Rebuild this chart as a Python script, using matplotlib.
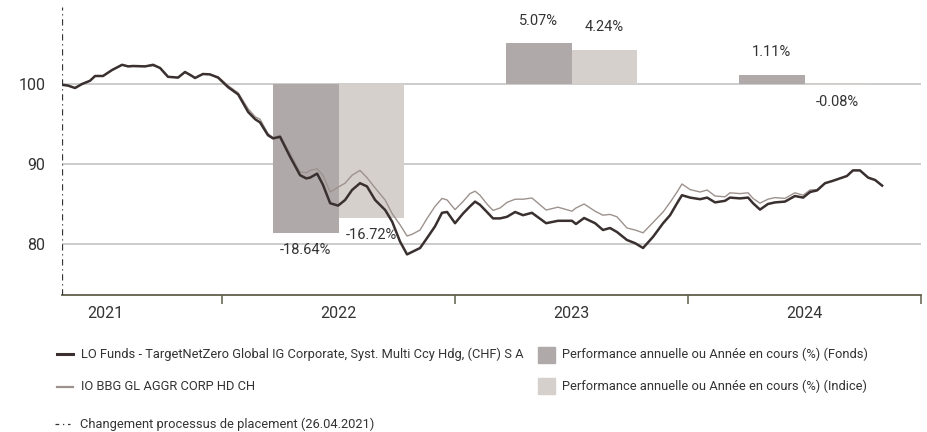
import numpy as np
import matplotlib
matplotlib.use('Agg')
import matplotlib.pyplot as plt
from matplotlib.lines import Line2D
from matplotlib.patches import Rectangle

plt.rcParams['font.family'] = ['Roboto', 'DejaVu Sans']
plt.rcParams['font.size'] = 11

## DATA
# time as decimal years (start = 26.04.2021)
years = [2021.313, 2021.339, 2021.369, 2021.399, 2021.433, 2021.455, 2021.489, 2021.528,
         2021.571, 2021.597, 2021.618, 2021.670, 2021.704, 2021.734, 2021.768, 2021.811,
         2021.841, 2021.871, 2021.884, 2021.918, 2021.948, 2021.983, 2022.026, 2022.069,
         2022.112, 2022.142, 2022.163, 2022.197, 2022.219, 2022.249, 2022.292, 2022.335,
         2022.361, 2022.378, 2022.408, 2022.433, 2022.464, 2022.498, 2022.528, 2022.558,
         2022.592, 2022.622, 2022.657, 2022.700, 2022.730, 2022.764, 2022.794, 2022.815,
         2022.850, 2022.880, 2022.914, 2022.944, 2022.966, 2023.000, 2023.034, 2023.064,
         2023.086, 2023.107, 2023.137, 2023.163, 2023.193, 2023.223, 2023.258, 2023.292,
         2023.330, 2023.391, 2023.442, 2023.502, 2023.519, 2023.554, 2023.601, 2023.635,
         2023.665, 2023.695, 2023.738, 2023.773, 2023.807, 2023.850, 2023.893, 2023.923,
         2023.953, 2023.974, 2024.009, 2024.052, 2024.082, 2024.116, 2024.159, 2024.180,
         2024.223, 2024.258, 2024.279, 2024.309, 2024.343, 2024.373, 2024.416, 2024.459,
         2024.494, 2024.524, 2024.554, 2024.588, 2024.622, 2024.652, 2024.682, 2024.708,
         2024.738, 2024.773, 2024.803, 2024.833]

fund = [99.9, 99.8, 99.5, 100.0, 100.4, 101.0, 101.0, 101.75,
        102.4, 102.2, 102.25, 102.2, 102.4, 102.0, 100.9, 100.8,
        101.5, 101.0, 100.75, 101.25, 101.2, 100.8, 99.6, 98.7,
        96.5, 95.6, 95.2, 93.6, 93.2, 93.4, 90.9, 88.6,
        88.2, 88.3, 88.8, 87.4, 85.1, 84.8, 85.5, 86.75,
        87.6, 87.2, 85.5, 84.25, 82.8, 80.3, 78.7, 79.0,
        79.5, 80.75, 82.2, 83.9, 84.0, 82.6, 83.8, 84.7,
        85.3, 84.9, 84.0, 83.2, 83.2, 83.4, 84.0, 83.6,
        83.9, 82.6, 82.9, 82.9, 82.5, 83.25, 82.6, 81.75,
        82.0, 81.5, 80.5, 80.1, 79.5, 80.9, 82.6, 83.6,
        85.1, 86.1, 85.8, 85.6, 85.8, 85.2, 85.4, 85.8,
        85.7, 85.8, 85.1, 84.3, 85.0, 85.2, 85.3, 86.0,
        85.8, 86.5, 86.7, 87.6, 87.9, 88.2, 88.5, 89.2,
        89.2, 88.3, 88.0, 87.3]

index = [99.9, 99.8, 99.5, 100.0, 100.4, 101.0, 101.0, 101.75,
         102.4, 102.2, 102.2, 102.2, 102.3, 102.0, 100.9, 100.8,
         101.5, 101.0, 100.8, 101.25, 101.2, 100.9, 99.8, 98.9,
         96.9, 95.9, 95.6, 93.8, 93.3, 93.6, 91.3, 89.0,
         88.9, 89.2, 89.4, 88.6, 86.5, 87.1, 87.6, 88.6,
         89.2, 88.3, 87.0, 85.5, 83.8, 82.4, 81.0, 81.2,
         81.75, 83.2, 84.7, 85.7, 85.5, 84.3, 85.3, 86.3,
         86.6, 86.1, 85.0, 84.2, 84.5, 85.2, 85.6, 85.6,
         85.75, 84.25, 84.6, 84.1, 84.5, 85.0, 84.1, 83.6,
         83.7, 83.4, 82.0, 81.75, 81.4, 82.7, 84.0, 85.2,
         86.5, 87.5, 86.8, 86.5, 86.75, 86.0, 85.9, 86.4,
         86.3, 86.4, 85.7, 85.1, 85.6, 85.8, 85.7, 86.4,
         86.1, 86.75, 86.8, 87.6, 87.9, 88.2, 88.5, 89.2,
         89.2, 88.3, 88.0, 87.3]

bar_years = [2022, 2023, 2024]
fund_perf = [-18.64, 5.07, 1.11]
index_perf = [-16.72, 4.24, -0.08]

change_date = 2021.313   # 26.04.2021
year_labels = ['2021', '2022', '2023', '2024']

fund_name = 'LO Funds - TargetNetZero Global IG Corporate, Syst. Multi Ccy Hdg, (CHF) S A'
index_name = 'IO BBG GL AGGR CORP HD CH'
bar_fund_name = 'Performance annuelle ou Année en cours (%) (Fonds)'
bar_index_name = 'Performance annuelle ou Année en cours (%) (Indice)'
change_name = 'Changement processus de placement (26.04.2021)'

## STYLE
c_fund = '#3a3030'
c_index = '#9d928d'
c_bar_fund = '#afaaa9'
c_bar_index = '#d5d0cc'
c_text = '#333333'
c_axis = '#5f5f4a'
W, H = 927, 432
fs_leg = 9.3

fig = plt.figure(figsize=(W / 100, H / 100), dpi=100)
ax = fig.add_axes([62 / W, 137 / H, 859 / W, 295 / H])

ymin, ymax = 73.625, 110.5
ax.set_xlim(change_date, 2025.0)
ax.set_ylim(ymin, ymax)

# grid
for g in [80, 90, 100]:
    ax.axhline(g, color='#c4c4c4', lw=1.2, zorder=1)

# bars, base 100
bw = 0.283
for yr, fp, ip in zip(bar_years, fund_perf, index_perf):
    mid = yr + 0.5
    ax.bar(mid - bw / 2, fp, width=bw, bottom=100, color=c_bar_fund, zorder=2)
    ax.bar(mid + bw / 2, ip, width=bw, bottom=100, color=c_bar_index, zorder=2)
    for xc, v in [(mid - bw / 2, fp), (mid + bw / 2, ip)]:
        off = 16.5 if v > 0 else -12.5
        ax.annotate('%.2f%%' % v, (xc, 100 + v), xytext=(0, off), textcoords='offset points',
                    ha='center', va='center', color=c_text, fontsize=10.5, zorder=5)

# lines
ax.plot(years, index, color=c_index, lw=1.0, zorder=3)
ax.plot(years, fund, color=c_fund, lw=1.8, zorder=4)

# change of investment process
ax.vlines(change_date, ymin, 109.6, color='#333333', lw=0.9,
          linestyles=(0, (5, 3, 1, 3)), zorder=4)

# axes styling
for s in ['top', 'right', 'left']:
    ax.spines[s].set_visible(False)
ax.spines['bottom'].set_color(c_axis)
ax.spines['bottom'].set_linewidth(1.3)
ax.set_yticks([80, 90, 100])
ax.set_yticklabels(['80', '90', '100'])
ax.tick_params(axis='y', length=0, pad=12, labelcolor=c_text, labelsize=11.5)
ax.set_xticks([2022, 2023, 2024, 2025])
ax.set_xticklabels([])
ax.tick_params(axis='x', which='major', length=6.5, width=1.1, color=c_axis, direction='out')
ax.set_xticks([2021.5, 2022.5, 2023.5, 2024.5], minor=True)
ax.set_xticklabels(year_labels, minor=True)
ax.tick_params(axis='x', which='minor', length=0, pad=8, labelcolor=c_text, labelsize=11.5)


# legend, drawn in pixel positions of the figure
def fx(x):
    return x / W


def fy(y):
    return 1 - y / H


fig.add_artist(Line2D([fx(57), fx(73)], [fy(354), fy(354)], color=c_fund, lw=2.2))
fig.text(fx(81), fy(354), fund_name, va='center', ha='left', color=c_text, fontsize=fs_leg)
fig.add_artist(Line2D([fx(57), fx(73)], [fy(387), fy(387)], color=c_index, lw=1.6))
fig.text(fx(81), fy(387), index_name, va='center', ha='left', color=c_text, fontsize=fs_leg)
fig.add_artist(Line2D([fx(55), fx(70)], [fy(424), fy(424)], color='#333333', lw=0.9,
                      linestyle=(0, (3, 3, 1, 3))))
fig.text(fx(80), fy(424), change_name, va='center', ha='left', color=c_text, fontsize=fs_leg)

fig.add_artist(Rectangle((fx(538), fy(363)), 17 / W, 16 / H, color=c_bar_fund))
fig.text(fx(562), fy(354), bar_fund_name, va='center', ha='left', color=c_text, fontsize=fs_leg)
fig.add_artist(Rectangle((fx(538), fy(394)), 17 / W, 16 / H, color=c_bar_index))
fig.text(fx(562), fy(386), bar_index_name, va='center', ha='left', color=c_text, fontsize=fs_leg)

fig.savefig('out.png', dpi=100)
